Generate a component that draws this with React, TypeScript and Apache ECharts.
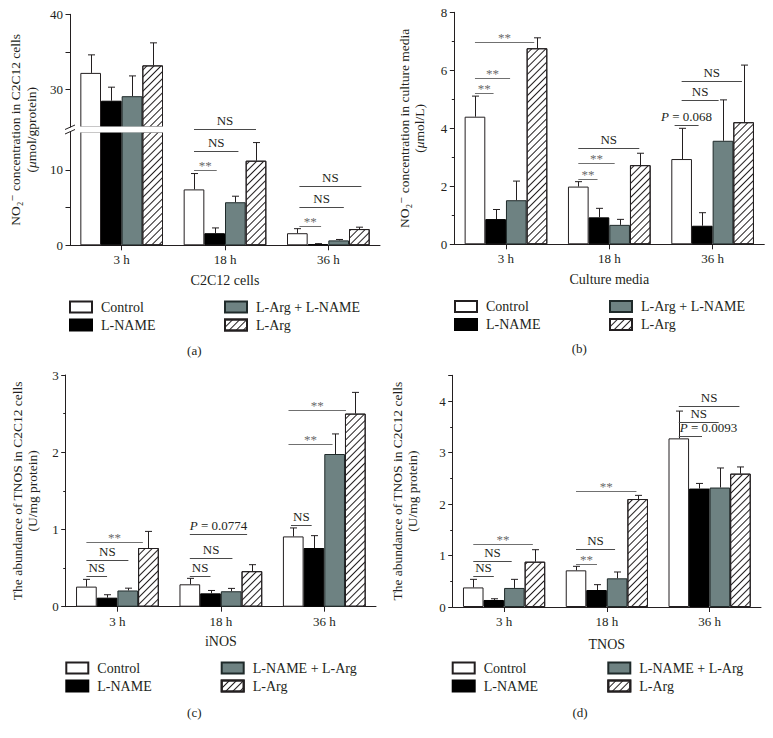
import React, { useEffect, useRef } from 'react';
import * as echarts from 'echarts';

const FONT = '"Liberation Serif", "DejaVu Serif", "Times New Roman", serif';
const INK = '#231f20';
const GRAY = '#6e8282';

const timePoints = ['3 h', '18 h', '36 h'];
const groupsAB = ['Control', 'L-NAME', 'L-Arg + L-NAME', 'L-Arg'];
const groupsCD = ['Control', 'L-NAME', 'L-NAME + L-Arg', 'L-Arg'];

// (a) NO2- concentration in C2C12 cells (μmol/g protein)
const aControl = [32.2, 7.4, 1.6];
const aControlSD = [2.4, 2.1, 0.6];
const aLName = [28.5, 1.6, 0.15];
const aLNameSD = [1.8, 0.7, 0.07];
const aCombo = [29.1, 5.7, 0.65];
const aComboSD = [2.7, 0.8, 0.12];
const aLArg = [33.2, 11.2, 2.15];
const aLArgSD = [3.0, 2.4, 0.25];

// (b) NO2- concentration in culture media (μmol/L)
const bControl = [4.4, 1.99, 2.94];
const bControlSD = [0.71, 0.17, 1.06];
const bLName = [0.87, 0.93, 0.64];
const bLNameSD = [0.33, 0.31, 0.45];
const bCombo = [1.52, 0.67, 3.57];
const bComboSD = [0.66, 0.19, 1.41];
const bLArg = [6.76, 2.73, 4.21];
const bLArgSD = [0.36, 0.41, 1.97];

// (c) iNOS (U/mg protein)
const cControl = [0.26, 0.29, 0.91];
const cControlSD = [0.094, 0.077, 0.11];
const cLName = [0.117, 0.173, 0.76];
const cLNameSD = [0.038, 0.037, 0.16];
const cCombo = [0.21, 0.2, 1.977];
const cComboSD = [0.03, 0.037, 0.26];
const cLArg = [0.76, 0.46, 2.5];
const cLArgSD = [0.215, 0.084, 0.275];

// (d) TNOS (U/mg protein)
const dControl = [0.38, 0.712, 3.275];
const dControlSD = [0.157, 0.078, 0.53];
const dLName = [0.136, 0.33, 2.3];
const dLNameSD = [0.024, 0.104, 0.1];
const dCombo = [0.37, 0.557, 2.32];
const dComboSD = [0.167, 0.123, 0.38];
const dLArg = [0.88, 2.097, 2.59];
const dLArgSD = [0.233, 0.071, 0.13];

// significance brackets: [time index, from bar, to bar, y value, label, align]
const aBrackets: any[] = [
  [1, 0, 1.1, 10.0, '**'],
  [1, 0, 2.15, 12.5, 'NS'],
  [1, 0, 3.0, 15.35, 'NS'],
  [2, 0.1, 1.15, 2.55, '**'],
  [2, 0.1, 2.25, 5.1, 'NS'],
  [2, 0.1, 3.1, 7.9, 'NS'],
];
const bBrackets: any[] = [
  [0, 0, 0.9, 5.21, '**'],
  [0, 0, 1.7, 5.74, '**'],
  [0, 0, 2.87, 6.99, '**'],
  [1, 0, 0.93, 2.25, '**'],
  [1, 0, 1.76, 2.79, '**'],
  [1, 0, 2.95, 3.33, 'NS'],
  [2, -0.34, 0.82, 4.11, 'P = 0.068'],
  [2, 0, 1.79, 4.98, 'NS'],
  [2, 0, 2.92, 5.64, 'NS'],
];
const cBrackets: any[] = [
  [0, 0, 1, 0.393, 'NS'],
  [0, 0, 2.03, 0.6, 'NS'],
  [0, 0, 2.73, 0.84, '**'],
  [1, 0, 1, 0.4, 'NS'],
  [1, 0, 2.06, 0.626, 'NS'],
  [1, 0, 2.77, 0.937, 'P = 0.0774'],
  [2, -0.11, 0.89, 1.053, 'NS'],
  [2, -0.23, 1.9, 2.106, '**'],
  [2, -0.23, 2.55, 2.546, '**'],
];
const dBrackets: any[] = [
  [0, 0, 1, 0.6, 'NS'],
  [0, 0, 1.87, 0.893, 'NS'],
  [0, 0, 2.9, 1.223, '**'],
  [1, 0, 1.02, 0.835, '**'],
  [1, 0, 1.9, 1.126, 'NS'],
  [1, 0, 2.94, 2.246, '**'],
  [2, 0, 1.13, 3.327, 'P = 0.0093', 'left'],
  [2, 0, 1.94, 3.6, 'NS'],
  [2, 0, 2.95, 3.896, 'NS'],
];

const styles: any[] = [
  { color: '#ffffff', borderColor: INK, borderWidth: 1 },
  { color: '#000000', borderColor: '#000000', borderWidth: 1 },
  { color: GRAY, borderColor: '#1f2a2a', borderWidth: 1 },
  {
    color: '#ffffff', borderColor: INK, borderWidth: 1,
    decal: { symbol: 'rect', symbolSize: 1, color: INK, dashArrayX: [1, 0], dashArrayY: [1, 3.4], rotation: -Math.PI / 4 },
  },
];

const BAR_FRAC = 0.8;

function barSeries(axisIdx: number, names: string[], values: number[][]) {
  return values.map((vals, i) => ({
    type: 'bar', name: names[i], xAxisIndex: axisIdx, yAxisIndex: axisIdx,
    data: vals, barGap: '0%', barCategoryGap: '20%', clip: true, z: 2,
    itemStyle: styles[i], emphasis: { disabled: true }, silent: true,
  }));
}

function errorSeries(axisIdx: number, means: number[][], sds: number[][]) {
  const data: number[][] = [];
  means.forEach((arr, bi) => arr.forEach((m, ci) => data.push([ci, bi, m, m + sds[bi][ci]])));
  return {
    type: 'custom', xAxisIndex: axisIdx, yAxisIndex: axisIdx, z: 3, clip: true, silent: true,
    encode: { x: 0, y: [2, 3] }, data,
    renderItem: (params: any, api: any) => {
      const ci = api.value(0), bi = api.value(1), m = api.value(2), top = api.value(3);
      const bw = (api.size([1, 0])[0] * BAR_FRAC) / 4;
      const p = api.coord([ci, m]);
      const x = Math.round(p[0] + (bi - 1.5) * bw) + 0.5;
      const yTop = api.coord([ci, top])[1];
      return {
        type: 'group', children: [
          { type: 'line', shape: { x1: x, y1: p[1], x2: x, y2: yTop }, style: { stroke: INK, lineWidth: 1 } },
          { type: 'line', shape: { x1: x - 3.5, y1: yTop, x2: x + 3.5, y2: yTop }, style: { stroke: INK, lineWidth: 1 } },
        ],
      };
    },
  };
}

function bracketSeries(axisIdx: number, brackets: any[]) {
  return {
    type: 'custom', xAxisIndex: axisIdx, yAxisIndex: axisIdx, z: 10, silent: true,
    encode: { x: 0, y: 3 },
    data: brackets.map((b) => [b[0], b[1], b[2], b[3]]),
    renderItem: (params: any, api: any) => {
      const b = brackets[params.dataIndex];
      const label: string = b[4];
      const bw = (api.size([1, 0])[0] * BAR_FRAC) / 4;
      const c = api.coord([b[0], b[3]]);
      const x0 = c[0] + (b[1] - 1.5) * bw;
      const x1 = c[0] + (b[2] - 1.5) * bw;
      const y = Math.round(c[1]) + 0.5;
      const star = label === '**';
      const left = b[5] === 'left';
      const isP = label.charAt(0) === 'P';
      return {
        type: 'group', children: [
          { type: 'line', shape: { x1: x0, y1: y, x2: x1, y2: y }, style: { stroke: star ? '#707070' : '#4a4a4a', lineWidth: 1 } },
          {
            type: 'text',
            style: {
              text: isP ? '{i|P}' + label.slice(1) : label,
              x: left ? x0 + 1 : (x0 + x1) / 2,
              y: y - (star ? 5 : 9),
              textAlign: left ? 'left' : 'center',
              textVerticalAlign: 'middle',
              fontFamily: FONT, fontSize: star ? 13 : 13,
              fill: star ? '#6a6a6a' : INK,
              rich: { i: { fontStyle: 'italic', fontFamily: FONT, fontSize: 13, fill: INK } },
            },
          },
        ],
      };
    },
  };
}

const grids = [
  { left: 70, top: 14.3, width: 310, height: 112.7 },
  { left: 70, top: 132, width: 310, height: 113.3 },
  { left: 454.3, top: 12.3, width: 310, height: 232 },
  { left: 65.7, top: 375, width: 310.3, height: 231.7 },
  { left: 452.7, top: 375.3, width: 308.3, height: 231.7 },
];

const textBase = { fontFamily: FONT, color: INK };

function xAxis(gridIndex: number, name: string, nameGap: number, show = true) {
  return {
    type: 'category', gridIndex, data: timePoints, boundaryGap: true, show,
    axisLine: { show: true, lineStyle: { color: INK, width: 1 } },
    axisTick: { show: true, alignWithLabel: true, length: 5, lineStyle: { color: INK } },
    axisLabel: { ...textBase, fontSize: 13, margin: 8 },
    splitLine: { show: false },
    name, nameLocation: 'middle', nameGap, nameTextStyle: { ...textBase, fontSize: 14 },
  };
}

function yAxis(gridIndex: number, min: number, max: number, interval: number, extra: any = {}) {
  return {
    type: 'value', gridIndex, min, max, interval,
    axisLine: { show: true, lineStyle: { color: INK, width: 1 } },
    axisTick: { show: true, length: 4.5, lineStyle: { color: INK } },
    minorTick: { show: true, splitNumber: 2, length: 2.5, lineStyle: { color: INK } },
    axisLabel: { ...textBase, fontSize: 13, margin: 7 },
    splitLine: { show: false },
    minorSplitLine: { show: false },
    ...extra,
  };
}

const yNameStyle = {
  ...textBase, fontSize: 13.5, lineHeight: 15.5,
  rich: { i: { fontStyle: 'italic', fontFamily: FONT, fontSize: 13.5, color: INK, lineHeight: 15.5 } },
};

function legend(left: number, top: number, names: string[]) {
  return {
    left, top, orient: 'vertical', icon: 'rect', itemWidth: 22, itemHeight: 11, itemGap: 4,
    padding: 0, selectedMode: false, data: names,
    textStyle: { ...textBase, fontSize: 14, lineHeight: 14, padding: [0, 0, 0, 4] },
  };
}

function buildOption() {
  const aMeans = [aControl, aLName, aCombo, aLArg];
  const aSDs = [aControlSD, aLNameSD, aComboSD, aLArgSD];
  const bMeans = [bControl, bLName, bCombo, bLArg];
  const bSDs = [bControlSD, bLNameSD, bComboSD, bLArgSD];
  const cMeans = [cControl, cLName, cCombo, cLArg];
  const cSDs = [cControlSD, cLNameSD, cComboSD, cLArgSD];
  const dMeans = [dControl, dLName, dCombo, dLArg];
  const dSDs = [dControlSD, dLNameSD, dComboSD, dLArgSD];

  return {
    animation: false,
    backgroundColor: '#ffffff',
    grid: grids.map((g) => ({ ...g, containLabel: false, outerBoundsMode: 'none' })),
    xAxis: [
      xAxis(0, '', 0, false),
      xAxis(1, 'C2C12 cells', 28.5),
      xAxis(2, 'Culture media', 28),
      xAxis(3, 'iNOS', 28),
      xAxis(4, 'TNOS', 30),
    ],
    yAxis: [
      yAxis(0, 25, 40, 5, {
        minorTick: { show: false },
        axisTick: { show: true, length: 4.5, lineStyle: { color: INK }, customValues: [30, 35, 40] },
        axisLabel: { ...textBase, fontSize: 13, margin: 7, customValues: [30, 40] },
      }),
      yAxis(1, 0, 15, 5, {
        minorTick: { show: false },
        axisTick: { show: true, length: 4.5, lineStyle: { color: INK }, customValues: [0, 5, 10] },
        axisLabel: { ...textBase, fontSize: 13, margin: 7, customValues: [0, 10] },
      }),
      yAxis(2, 0, 8, 2, {
        name: 'NO₂⁻ concentration in culture media\n({i|μ}mol/L)',
        nameLocation: 'middle', nameRotate: 90, nameGap: 27, nameTextStyle: yNameStyle,
      }),
      yAxis(3, 0, 3, 1, {
        name: 'The abundance of TNOS in C2C12 cells\n(U/mg protein)',
        nameLocation: 'middle', nameRotate: 90, nameGap: 25, nameTextStyle: yNameStyle,
      }),
      yAxis(4, 0, 4.5, 1, {
        axisLabel: { ...textBase, fontSize: 13, margin: 7, customValues: [0, 1, 2, 3, 4] },
        name: 'The abundance of TNOS in C2C12 cells\n(U/mg protein)',
        nameLocation: 'middle', nameRotate: 90, nameGap: 32, nameTextStyle: yNameStyle,
      }),
    ],
    legend: [
      legend(69, 300, ['Control', 'L-NAME']),
      legend(224, 300, ['L-Arg + L-NAME', 'L-Arg']),
      legend(454, 299.5, ['Control', 'L-NAME']),
      legend(609, 299.5, ['L-Arg + L-NAME', 'L-Arg']),
      legend(65.3, 661, ['Control', 'L-NAME']),
      legend(220.7, 661, ['L-NAME + L-Arg', 'L-Arg']),
      legend(451.7, 661, ['Control', 'L-NAME']),
      legend(607.3, 661, ['L-NAME + L-Arg', 'L-Arg']),
    ],
    series: [
      ...barSeries(0, groupsAB, aMeans),
      ...barSeries(1, groupsAB, aMeans),
      errorSeries(0, aMeans, aSDs),
      errorSeries(1, aMeans, aSDs),
      bracketSeries(1, aBrackets),
      ...barSeries(2, groupsAB, bMeans),
      errorSeries(2, bMeans, bSDs),
      bracketSeries(2, bBrackets),
      ...barSeries(3, groupsCD, cMeans),
      errorSeries(3, cMeans, cSDs),
      bracketSeries(3, cBrackets),
      ...barSeries(4, groupsCD, dMeans),
      errorSeries(4, dMeans, dSDs),
      bracketSeries(4, dBrackets),
    ],
    graphic: [
      // white break band across panel (a)
      { type: 'rect', z: 5, silent: true, shape: { x: 71, y: 126.5, width: 310, height: 6 }, style: { fill: '#ffffff' } },
      // break marks on the y axis of panel (a)
      { type: 'line', z: 6, silent: true, shape: { x1: 65, y1: 129.5, x2: 75, y2: 125 }, style: { stroke: INK, lineWidth: 1 } },
      { type: 'line', z: 6, silent: true, shape: { x1: 65, y1: 134, x2: 75, y2: 129.5 }, style: { stroke: INK, lineWidth: 1 } },
      {
        type: 'text', z: 6, silent: true, x: 23.7, y: 129.8, rotation: Math.PI / 2,
        style: {
          text: 'NO₂⁻ concentration in C2C12 cells\n({i|μ}mol/gprotein)',
          textAlign: 'center', textVerticalAlign: 'middle',
          fontFamily: FONT, fontSize: 13.5, lineHeight: 16, fill: INK,
          rich: { i: { fontStyle: 'italic', fontFamily: FONT, fontSize: 13.5, lineHeight: 16, fill: INK } },
        },
      },
      { type: 'text', silent: true, x: 194.3, y: 350, style: { text: '(a)', textAlign: 'center', textVerticalAlign: 'middle', fontFamily: FONT, fontSize: 13, fill: INK } },
      { type: 'text', silent: true, x: 579.3, y: 348.5, style: { text: '(b)', textAlign: 'center', textVerticalAlign: 'middle', fontFamily: FONT, fontSize: 13, fill: INK } },
      { type: 'text', silent: true, x: 194.3, y: 712.3, style: { text: '(c)', textAlign: 'center', textVerticalAlign: 'middle', fontFamily: FONT, fontSize: 13, fill: INK } },
      { type: 'text', silent: true, x: 580, y: 712, style: { text: '(d)', textAlign: 'center', textVerticalAlign: 'middle', fontFamily: FONT, fontSize: 13, fill: INK } },
    ],
  };
}

export default function App() {
  const ref = useRef<HTMLDivElement>(null);
  useEffect(() => {
    const chart = echarts.init(ref.current as HTMLDivElement, null, { renderer: 'svg' });
    chart.setOption(buildOption() as any);
    return () => chart.dispose();
  }, []);
  return (
    <div
      ref={ref}
      style={{ position: 'absolute', left: 0, top: 0, width: 773, height: 738, background: '#ffffff' }}
    />
  );
}
